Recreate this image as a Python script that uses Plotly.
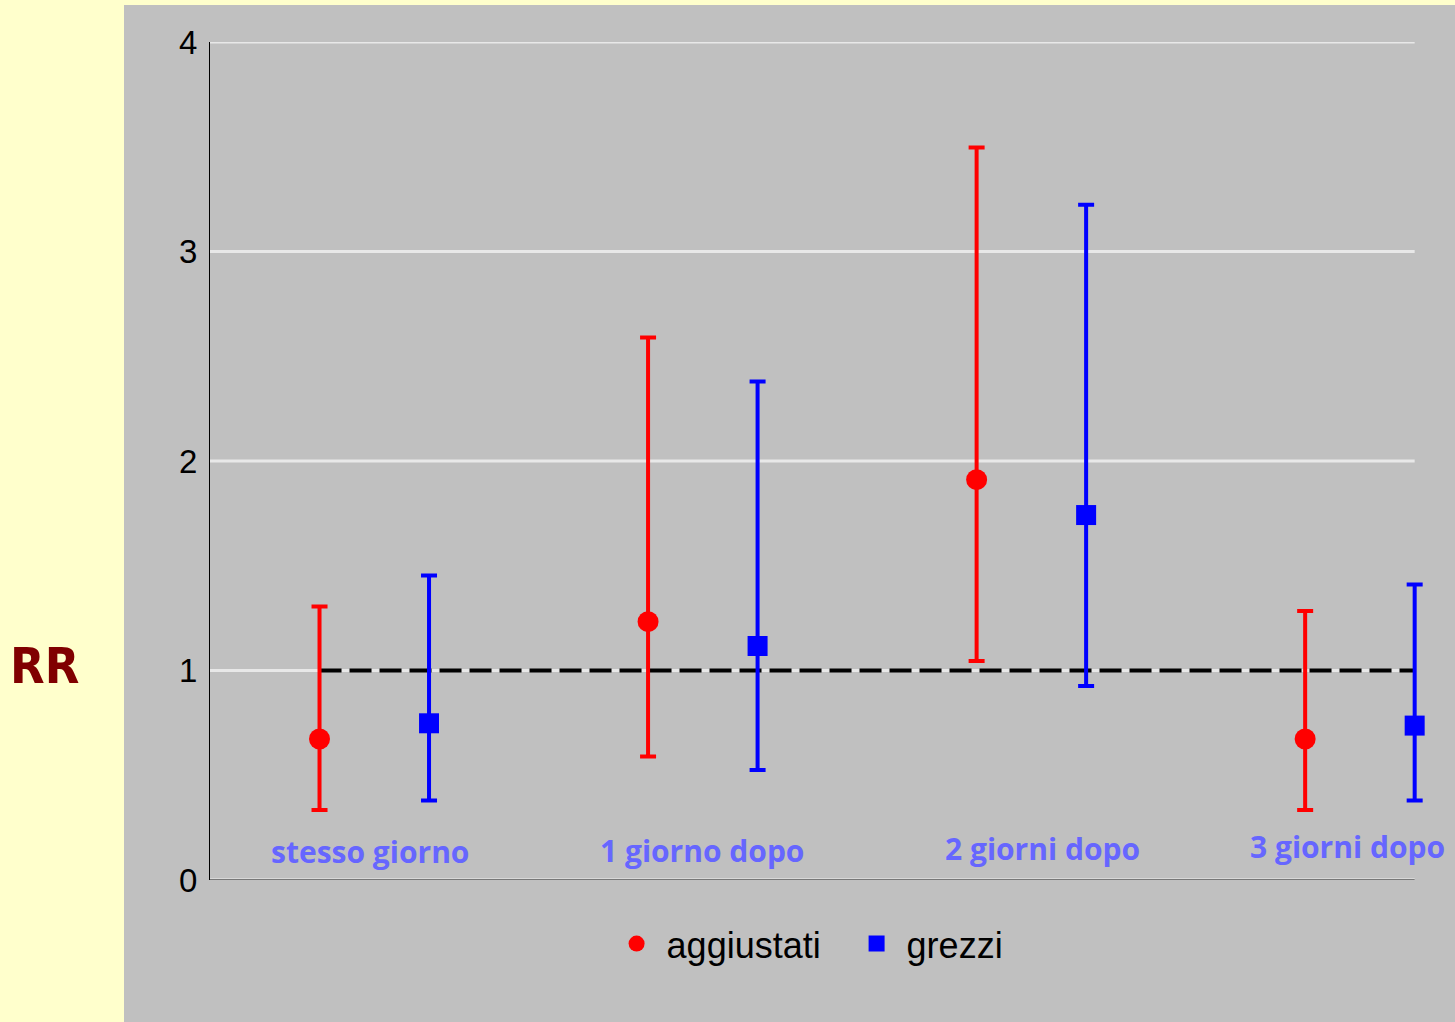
import plotly.graph_objects as go

# ---- data ----
categories = ["stesso giorno", "1 giorno dopo", "2 giorni dopo", "3 giorni dopo"]
agg_rr = [0.673, 1.233, 1.911, 0.673]
agg_upper = [1.305, 2.590, 3.496, 1.284]
agg_lower = [0.334, 0.589, 1.045, 0.334]
grezzi_rr = [0.748, 1.117, 1.742, 0.737]
grezzi_upper = [1.453, 2.380, 3.223, 1.411]
grezzi_lower = [0.379, 0.525, 0.926, 0.379]
reference_rr = 1.0
y_ticks = [0, 1, 2, 3, 4]

# x layout: each group occupies 3 units; red at 3i+1, blue at 3i+2
x_agg = [3 * i + 1 for i in range(len(categories))]
x_grz = [3 * i + 2 for i in range(len(categories))]
X_END = x_grz[-1]

RED = "#FF0000"
BLUE = "#0000FF"

fig = go.Figure()

# reference line at RR = 1
fig.add_trace(go.Scatter(
    x=[x_agg[0], x_grz[-1]], y=[reference_rr, reference_rr],
    mode="lines", line=dict(color="black", width=4, dash="22px,8px"),
    showlegend=False, hoverinfo="skip"))

fig.add_trace(go.Scatter(
    x=x_agg, y=agg_rr, mode="markers", name="\u00a0aggiustati",
    marker=dict(symbol="circle", size=21, color=RED),
    error_y=dict(type="data", symmetric=False,
                 array=[u - v for u, v in zip(agg_upper, agg_rr)],
                 arrayminus=[v - l for v, l in zip(agg_rr, agg_lower)],
                 color=RED, thickness=4, width=8),
    cliponaxis=False))

fig.add_trace(go.Scatter(
    x=x_grz, y=grezzi_rr, mode="markers", name="\u00a0grezzi",
    marker=dict(symbol="square", size=20, color=BLUE),
    error_y=dict(type="data", symmetric=False,
                 array=[u - v for u, v in zip(grezzi_upper, grezzi_rr)],
                 arrayminus=[v - l for v, l in zip(grezzi_rr, grezzi_lower)],
                 color=BLUE, thickness=4, width=8),
    cliponaxis=False))

# category labels inside the plot
label_dx = [0.46, 0.49, 0.60, 0.39]
label_y = [0.134, 0.139, 0.148, 0.158]
annotations = []
for i, c in enumerate(categories):
    annotations.append(dict(
        x=x_agg[i] + label_dx[i], y=label_y[i], xref="x", yref="y",
        text=c, showarrow=False, xanchor="center", yanchor="middle",
        font=dict(family="Open Sans, Noto Sans, sans-serif", size=30, color="#6666FF",
                  weight="bold")))

annotations.append(dict(
    x=-0.136, y=0.2554, xref="paper", yref="paper", text="<b>RR</b>",
    showarrow=False, xanchor="center", yanchor="middle",
    font=dict(family="DejaVu Sans Condensed, DejaVu Sans, sans-serif",
              size=50, color="#800000")))

# gridlines and x axis line drawn up to the last data column
shapes = [dict(type="rect", xref="paper", yref="paper",
               x0=-0.0705, x1=1.1, y0=-0.1695, y1=1.0442,
               fillcolor="#C0C0C0", line=dict(width=0), layer="below")]
for t in y_ticks[1:]:
    shapes.append(dict(type="line", xref="x", yref="y", x0=-0.03, x1=X_END, y0=t, y1=t,
                       line=dict(color="#E8E8E8", width=3), layer="below"))
shapes.append(dict(type="line", xref="x", yref="y", x0=0, x1=X_END, y0=0, y1=0,
                   line=dict(color="#F0F0F0", width=3), layer="below"))
shapes.append(dict(type="line", xref="x", yref="y", x0=0, x1=X_END, y0=0, y1=0,
                   line=dict(color="black", width=1), layer="above"))

fig.update_layout(
    width=1455, height=1022,
    margin=dict(l=210, r=25, t=42, b=142),
    paper_bgcolor="#FFFFCC",
    plot_bgcolor="rgba(0,0,0,0)",
    shapes=shapes,
    annotations=annotations,
    showlegend=True,
    legend=dict(orientation="h", x=0.53, xanchor="center", y=-0.076,
                yanchor="middle", bgcolor="rgba(0,0,0,0)",
                font=dict(family="Liberation Sans, Arial, sans-serif", size=36,
                          color="black"),
                itemsizing="trace", tracegroupgap=0,
                entrywidth=195, entrywidthmode="pixels"),
    xaxis=dict(range=[0, 11.14], showgrid=False, zeroline=False,
               showticklabels=False, showline=False, ticks=""),
    yaxis=dict(range=[0, 4], tickvals=y_ticks, ticktext=[str(t) for t in y_ticks],
               showgrid=False, zeroline=False,
               showline=True, linecolor="black", linewidth=1,
               ticks="outside", ticklen=5, tickcolor="rgba(0,0,0,0)",
               tickfont=dict(family="Liberation Sans, Arial, sans-serif", size=33,
                             color="black")),
)

fig.write_html("out.html", config={"displayModeBar": False},
               post_script="document.body.style.margin='0';")
